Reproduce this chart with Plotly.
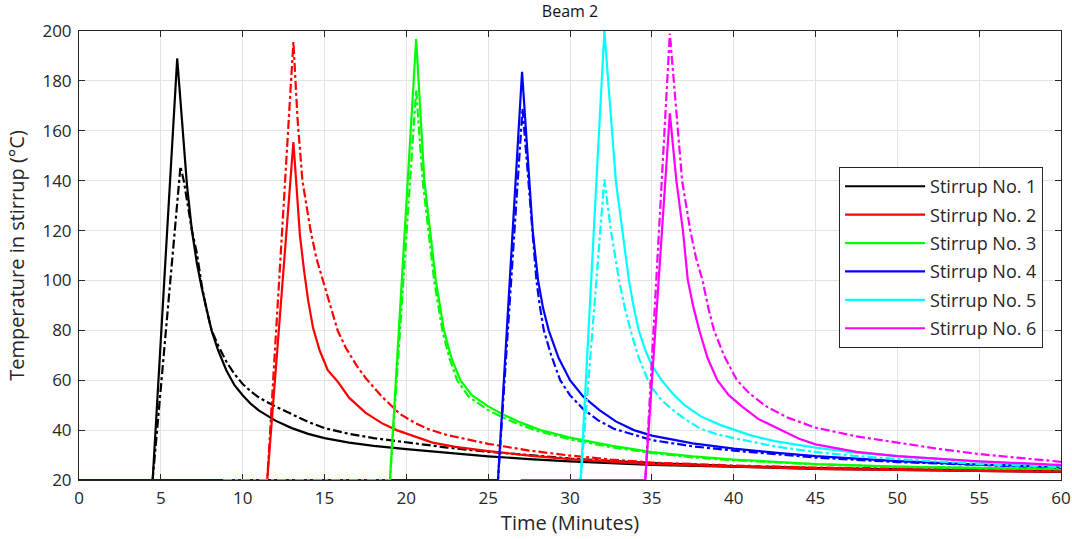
import plotly.graph_objects as go

# ---- data (time in minutes, temperature in °C) ----
names = ["Stirrup No. 1", "Stirrup No. 2", "Stirrup No. 3",
         "Stirrup No. 4", "Stirrup No. 5", "Stirrup No. 6"]
colors = ["#000000", "#ff0000", "#00ff00", "#0000ff", "#00ffff", "#ff00ff"]

# solid lines
s1_x = [0, 4.5, 6.0, 6.3, 6.6, 6.9, 7.2, 7.5, 7.8, 8.1, 8.5, 9.0, 9.5, 10, 10.5, 11, 12, 13, 14, 15, 16.5, 18, 20, 22.5, 25, 27.5, 30, 35, 40, 45, 50, 55, 60]
s1_y = [20, 20, 189, 162, 138, 120, 107, 97, 88, 80, 72, 64, 58, 54, 50.5, 47.8, 43.8, 40.8, 38.5, 36.8, 35, 33.7, 32.4, 30.8, 29.5, 28.4, 27.5, 26.1, 25.2, 24.5, 24, 23.6, 23.2]
s2_x = [0, 11.5, 13.1, 13.3, 13.5, 13.75, 14.0, 14.3, 14.7, 15.2, 15.8, 16.5, 17.5, 18.5, 19.4, 20.5, 21.6, 23, 25, 27.5, 30, 35, 40, 45, 50, 55, 60]
s2_y = [20, 20, 155.5, 135, 118, 104, 92, 81, 72, 64, 59.5, 53, 47, 42.8, 40, 37.5, 35, 33.3, 31.6, 29.8, 28.4, 26.4, 25.3, 24.5, 24, 23.6, 23.3]
s3_x = [0, 19.0, 20.6, 20.85, 21.1, 21.45, 21.8, 22.3, 22.75, 23.3, 24, 25, 26, 27, 28.2, 30, 32.5, 35, 37.5, 40, 45, 50, 55, 60]
s3_y = [20, 20, 196.8, 166, 140, 120, 100, 80, 69, 60, 54, 49.5, 46, 43, 40, 37, 33.8, 31.2, 29.5, 28.2, 26.4, 25.4, 24.8, 24.3]
s4_x = [0, 25.6, 27.07, 27.3, 27.5, 27.72, 28.05, 28.35, 28.7, 29.3, 30.0, 30.8, 31.8, 32.8, 33.9, 35, 37.5, 40, 42.5, 45, 50, 55, 60]
s4_y = [20, 20, 183.6, 160, 140, 120, 100, 89, 80, 69, 60, 53.5, 48, 43.5, 40, 37.8, 34.7, 32.6, 31, 29.6, 27.6, 26.2, 25.2]
s5_x = [27, 30.65, 32.1, 32.45, 32.8, 33.2, 33.6, 33.9, 34.2, 34.6, 35.0, 35.6, 36.3, 37.0, 38.0, 39.2, 40, 41, 42.5, 45, 47.5, 50, 55, 60]
s5_y = [20, 20, 200, 170, 140, 120, 100, 89, 80, 72, 66, 60, 54.5, 50, 45.5, 42, 40.3, 38, 35.6, 33, 31, 29.6, 27.4, 25.8]
s6_x = [27, 34.6, 36.1, 36.5, 36.9, 37.2, 37.55, 37.9, 38.4, 39.0, 39.7, 40.5, 41.5, 42.9, 44, 45, 47.5, 50, 55, 60]
s6_y = [20, 20, 167, 140, 120, 100, 89, 80, 69, 60, 54, 49.5, 44.5, 40, 36.5, 34.3, 31.3, 29.6, 27.5, 26]

# dash-dot lines
s1d_x = [0, 4.5, 6.2, 6.4, 6.65, 6.9, 7.2, 7.5, 7.8, 8.1, 8.5, 9.0, 9.5, 10, 10.5, 11, 12, 13, 14, 15, 16.5, 18, 20, 22.5, 25, 27.5, 30, 35, 40, 45, 50, 55, 60]
s1d_y = [20, 20, 145.7, 140, 130, 120, 111, 98, 88, 80, 74, 67.5, 62.5, 58.5, 55.5, 53, 49.5, 46.5, 43.3, 40.8, 38.5, 36.8, 35, 33, 31.3, 29.8, 28.6, 26.8, 25.6, 24.8, 24.2, 23.8, 23.5]
s2d_x = [0, 11.5, 13.1, 13.35, 13.65, 13.9, 14.15, 14.5, 14.9, 15.3, 15.8, 16.3, 17.0, 17.5, 18.5, 19.6, 20.5, 21.3, 22.5, 25, 27.5, 30, 32.5, 35, 40, 45, 50, 55, 60]
s2d_y = [20, 20, 195.6, 165, 140, 129, 120, 109, 100, 90.5, 80, 73, 65.5, 61, 53.5, 46.5, 43, 40.5, 38, 34.5, 31.8, 29.8, 28.2, 27, 25.8, 25, 24.5, 24.2, 24]
s3d_x = [8.8, 19.0, 20.6, 20.8, 21.0, 21.35, 21.7, 22.2, 22.65, 23.1, 23.8, 25, 26, 27, 28, 30, 32.5, 35, 37.5, 40, 45, 50, 55, 60]
s3d_y = [20, 20, 176.3, 158, 140, 120, 100, 80, 68.5, 60, 53.5, 48, 44.8, 42, 39.7, 36.3, 33.2, 30.8, 29.1, 27.9, 26.3, 25.3, 24.8, 24.4]
s4d_x = [0, 25.6, 27.1, 27.3, 27.45, 27.7, 27.95, 28.15, 28.4, 28.85, 29.4, 30.0, 30.8, 31.7, 32.7, 35, 37.5, 40, 42.5, 45, 50, 55, 60]
s4d_y = [20, 20, 169, 152, 140, 120, 100, 90, 80, 70, 60, 54, 48.5, 44, 40.5, 36, 33.5, 31.8, 30.3, 29, 27.2, 25.9, 24.9]
s5d_x = [27, 30.65, 32.1, 32.5, 33.0, 33.35, 33.7, 34.2, 34.7, 35.0, 35.6, 36.3, 37.0, 38.0, 39, 40, 42.5, 45, 47.5, 50, 55, 60]
s5d_y = [20, 20, 140.5, 120, 100, 89, 80, 69, 61, 57, 52, 48, 44.5, 40.5, 38.3, 36.8, 33.5, 31.2, 29.6, 28.4, 26.4, 25.2]
s6d_x = [27, 34.6, 36.1, 36.45, 36.85, 37.35, 37.7, 38.1, 38.45, 38.8, 39.4, 40.2, 41, 42, 43.3, 45, 47.5, 50, 52.5, 55, 57.5, 60]
s6d_y = [20, 20, 199, 170, 140, 120, 109, 100, 89, 80, 70, 60, 54.5, 49.5, 45, 41, 37.5, 35, 32.5, 30.4, 28.8, 27.3]

solid_x = [s1_x, s2_x, s3_x, s4_x, s5_x, s6_x]
solid_y = [s1_y, s2_y, s3_y, s4_y, s5_y, s6_y]
dash_x = [s1d_x, s2d_x, s3d_x, s4d_x, s5d_x, s6d_x]
dash_y = [s1d_y, s2d_y, s3d_y, s4d_y, s5d_y, s6d_y]

x_ticks = list(range(0, 61, 5))
y_ticks = list(range(20, 201, 20))

FONT = "Open Sans, Noto Sans, DejaVu Sans, sans-serif"
DARK = "#262626"
GRID = "#e3e3e3"

fig = go.Figure()
# drawing order: the blue series lies over the earlier baselines, the green
# dash-dot line over the blue one (as in the reference)
draw_order = [("s", 0), ("d", 0), ("s", 1), ("d", 1), ("s", 2), ("s", 3),
              ("d", 3), ("d", 2), ("s", 4), ("d", 4), ("s", 5), ("d", 5)]
for kind, i in draw_order:
    if kind == "s":
        fig.add_trace(go.Scatter(
            x=solid_x[i], y=solid_y[i], mode="lines", name=names[i],
            legendgroup=f"g{i}", legendrank=i + 1,
            line=dict(color=colors[i], width=2.2)))
    else:
        fig.add_trace(go.Scatter(
            x=dash_x[i], y=dash_y[i], mode="lines", name=names[i] + " (dash)",
            legendgroup=f"g{i}", legendrank=i + 1, showlegend=False,
            line=dict(color=colors[i], width=2.2, dash="dashdot")))

axis_common = dict(
    showline=True, linecolor=DARK, linewidth=1, mirror="ticks",
    ticks="inside", ticklen=6, tickcolor=DARK, tickwidth=1,
    showgrid=True, gridcolor=GRID, gridwidth=1, zeroline=False,
    automargin=False, ticklabelstandoff=3, layer="below traces",
    tickfont=dict(family=FONT, size=17, color=DARK),
)

fig.update_layout(
    width=1072, height=539,
    margin=dict(l=79, r=11, t=31, b=59),
    paper_bgcolor="white", plot_bgcolor="white",
    title=dict(text="Beam 2", xref="paper", x=0.5, xanchor="center",
               yref="container", y=0.978, yanchor="middle",
               font=dict(family=FONT, size=16, color="#111111")),
    xaxis=dict(range=[0, 60], tickvals=x_ticks,
               title=dict(text="Time (Minutes)", standoff=6,
                          font=dict(family=FONT, size=20, color=DARK)),
               **axis_common),
    yaxis=dict(range=[20, 200], tickvals=y_ticks,
               title=dict(text="Temperature in stirrup (°C)", standoff=12,
                          font=dict(family=FONT, size=20, color=DARK)),
               **axis_common),
    legend=dict(x=0.774, y=0.697, xanchor="left", yanchor="top",
                bgcolor="white", bordercolor=DARK, borderwidth=1,
                font=dict(family=FONT, size=18, color=DARK),
                itemwidth=80, tracegroupgap=2, traceorder="grouped"),
    showlegend=True,
)

fig.write_html("out.html",
               config={"displayModeBar": False},
               post_script="document.body.style.margin='0';document.body.style.overflow='hidden';")
